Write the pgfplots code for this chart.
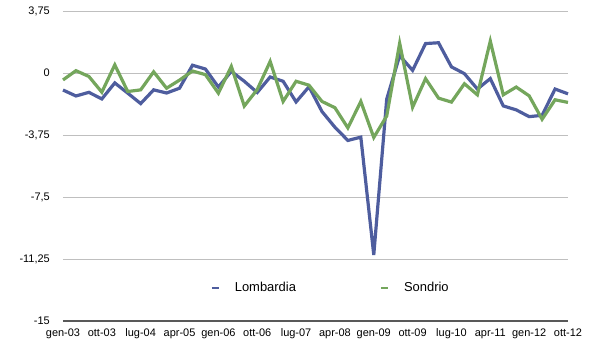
\documentclass[border=0pt]{standalone}
\usepackage{pgfplots}
\pgfplotsset{compat=1.18}
\usepackage{pgfplotstable}
\usepackage{fontspec}
\setmainfont{Liberation Sans}
\definecolor{lomb}{RGB}{78,93,158}
\definecolor{sond}{RGB}{116,166,92}
\pgfplotstableread{
i lomb sond
0 -1.03 -0.42
1 -1.39 0.14
2 -1.17 -0.21
3 -1.57 -1.16
4 -0.60 0.49
5 -1.22 -1.12
6 -1.85 -1.02
7 -1.02 0.07
8 -1.21 -0.92
9 -0.92 -0.43
10 0.47 0.12
11 0.24 -0.10
12 -0.85 -1.22
13 0.10 0.40
14 -0.50 -2.00
15 -1.18 -1.00
16 -0.24 0.70
17 -0.50 -1.72
18 -1.75 -0.50
19 -0.83 -0.74
20 -2.33 -1.72
21 -3.28 -2.10
22 -4.08 -3.32
23 -3.88 -1.72
24 -11.00 -3.90
25 -1.58 -2.60
26 1.05 1.80
27 0.16 -2.07
28 1.78 -0.34
29 1.83 -1.52
30 0.37 -1.76
31 -0.04 -0.65
32 -0.97 -1.32
33 -0.34 1.93
34 -1.99 -1.32
35 -2.23 -0.85
36 -2.64 -1.38
37 -2.56 -2.80
38 -0.97 -1.62
39 -1.26 -1.78
}\datatable
\begin{document}
\begin{tikzpicture}
\path[use as bounding box] (-63bp,-30bp) rectangle (537bp,321bp);
\begin{axis}[
  scale only axis,
  width=505bp, height=310bp,
  xmin=0, xmax=39, ymin=-15, ymax=3.75,
  xtick={0,3,...,39},
  xticklabels={gen-03,ott-03,lug-04,apr-05,gen-06,ott-06,lug-07,apr-08,gen-09,ott-09,lug-10,apr-11,gen-12,ott-12},
  ytick={-15,-11.25,-7.5,-3.75,0,3.75},
  yticklabels={{-15},{-11,25},{-7,5},{-3,75},{0},{3,75}},
  axis x line*=bottom, axis y line*=left,
  y axis line style={draw=none},
  x axis line style={draw=black!65, line width=1.3bp},
  major tick length=0pt,
  ymajorgrids,
  grid style={draw=black!25, line width=0.9bp},
  xticklabel style={font=\fontsize{11}{13}\selectfont, anchor=base, inner sep=0pt, yshift=-15bp},
  yticklabel style={font=\fontsize{11}{13}\selectfont, anchor=east, inner sep=0pt, xshift=-13bp},
  clip=false,
  legend columns=2,
  legend style={draw=none, fill=none, at={(axis cs:20.6,-13)}, anchor=center,
    font=\fontsize{13}{15}\selectfont,
    nodes={inner sep=0pt, anchor=west},
    /tikz/every even column/.append style={column sep=84bp}},
  legend image code/.code={\draw[#1, line width=2bp] (0bp,0bp) -- (7bp,0bp); \path[draw=none] (0bp,0bp) -- (23bp,0bp);},
]
\addplot[color=lomb, line width=3.2bp] table[x=i, y=lomb] {\datatable};
\addplot[color=sond, line width=3.2bp] table[x=i, y=sond] {\datatable};
\legend{Lombardia, Sondrio}
\end{axis}
\end{tikzpicture}
\end{document}
